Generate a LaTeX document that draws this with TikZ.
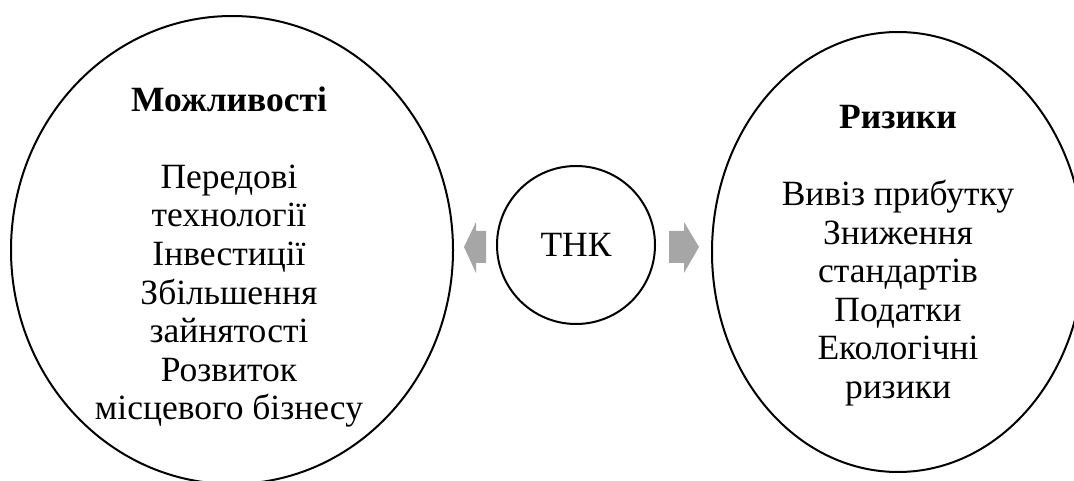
\documentclass[tikz,border=0pt]{standalone}
\usepackage{fontspec}
\setmainfont{Liberation Serif}
\usetikzlibrary{shapes.geometric,calc}
\definecolor{arrowgray}{HTML}{A6A6A6}
\tikzset{
  oval/.style={draw, line width=2pt, ellipse, inner sep=0pt},
  ring/.style={draw, line width=2pt, circle, inner sep=0pt, minimum size=158pt,
               font=\fontsize{35.5}{38.6}\selectfont},
  listtext/.style={align=center, inner sep=0pt, font=\fontsize{35.5}{38.6}\selectfont},
  blockarrow/.style={fill=arrowgray, draw=none},
}
\newcommand\ovalhead[1]{{\bfseries #1}}

\begin{document}
\begin{tikzpicture}[x=1pt,y=-1pt]
\useasboundingbox (0,0) rectangle (1074,481);
\clip (0,0) rectangle (1074,481);

% the three shapes
\node[oval, minimum width=442pt, minimum height=468pt] (opp) at (232,250) {};
\node[oval, minimum width=372pt, minimum height=440pt] (risk) at (898,252) {};
\node[ring] (tnc) at (576,245) {ТНК};

% contents of the two ovals
\node[listtext, anchor=north] (opptext) at (229,86.5)
  {\ovalhead{Можливості}\\[38.4pt]
   Передові\\технології\\Інвестиції\\Збільшення\\зайнятості\\Розвиток\\місцевого бізнесу};
\node[listtext, anchor=north] (risktext) at (898,105)
  {\ovalhead{Ризики}\\[38.4pt]
   Вивіз прибутку\\Зниження\\стандартів\\Податки\\Екологічні\\ризики};

% block arrows pointing out of the centre circle
\fill[blockarrow]
  ($(tnc.west)+(-32,2)$) -- ($(tnc.west)+(-20,-23)$) -- ($(tnc.west)+(-20,-14)$)
  -- ($(tnc.west)+(-10,-14)$) -- ($(tnc.west)+(-10,18)$) -- ($(tnc.west)+(-20,18)$)
  -- ($(tnc.west)+(-20,28)$) -- cycle;
\fill[blockarrow]
  ($(tnc.east)+(43,2)$) -- ($(tnc.east)+(28,-23)$) -- ($(tnc.east)+(28,-14)$)
  -- ($(tnc.east)+(13,-14)$) -- ($(tnc.east)+(13,18)$) -- ($(tnc.east)+(28,18)$)
  -- ($(tnc.east)+(28,28)$) -- cycle;
\end{tikzpicture}
\end{document}
